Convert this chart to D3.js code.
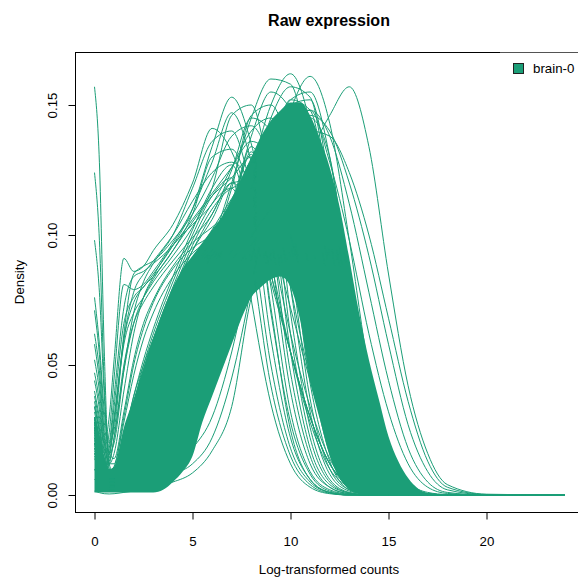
<!DOCTYPE html>
<html><head><meta charset="utf-8">
<script src="https://cdn.jsdelivr.net/npm/d3@7"></script>
<style>
body{margin:0;background:#fff}
svg{display:block}
text{font-family:"Liberation Sans",Arial,Helvetica,sans-serif;fill:#000}
</style>
</head><body>
<svg id="chart" width="578" height="577"></svg>
<script>
// ---------- text / categories ----------
const chartTitle = "Raw expression";
const xTitle = "Log-transformed counts";
const yTitle = "Density";
const legendLabels = ["brain-0"];
const seriesColor = "#1B9E77";
const xTickValues = [0, 5, 10, 15, 20];
const yTickValues = [0, 0.05, 0.10, 0.15];
const yTickLabels = ["0.00", "0.05", "0.10", "0.15"];

// ---------- dense core of the density curves (envelope) ----------
const bandX =    [0, 0.25, 0.5, 0.75, 1, 1.5, 2, 2.5, 3, 3.5, 4, 4.5, 5, 5.5, 6, 6.5, 7, 7.5, 8, 8.5, 9, 9.5, 10, 10.5, 11, 11.5, 12, 12.5, 13, 13.5, 14, 14.5, 15, 15.5, 16, 16.5, 17, 18];
const bandHigh = [0.030, 0.022, 0.015, 0.010, 0.011, 0.026, 0.037, 0.049, 0.060, 0.071, 0.080, 0.087, 0.092, 0.097, 0.102, 0.107, 0.114, 0.122, 0.130, 0.138, 0.144, 0.148, 0.151, 0.151, 0.146, 0.137, 0.126, 0.111, 0.091, 0.070, 0.052, 0.037, 0.0225, 0.013, 0.0065, 0.0025, 0.0008, 0.0002];
const bandLow =  [0.001, 0.001, 0.001, 0.001, 0.001, 0.001, 0.001, 0.001, 0.001, 0.002, 0.005, 0.009, 0.015, 0.028, 0.038, 0.048, 0.058, 0.068, 0.076, 0.080, 0.083, 0.084, 0.080, 0.067, 0.044, 0.029, 0.015, 0.0065, 0.002, 0.0005, 0.0002, 0.0001, 0.0001, 0.0001, 0.0001, 0.0001, 0.0001, 0.0001];

// ---------- individual visible sample curves ----------
const gridX = [0, 0.25, 0.5, 0.75, 1, 1.5, 2, 2.5, 3, 4, 5, 6, 7, 8, 9, 10, 11, 12, 13, 14, 15, 16, 17, 18, 20, 24];

const spike1 = [.157, .128, .055, .010, .006, .012, .020, .028, .036, .052, .068, .080, .092, .108, .130, .150, .143, .108, .060, .022, .006, .0015, .0003, .0001, 0, 0];
const spike2 = [.124, .098, .042, .012, .008, .020, .034, .048, .060, .078, .088, .095, .103, .118, .138, .150, .136, .096, .050, .018, .005, .001, .0002, 0, 0, 0];
const spike3 = [.098, .078, .038, .016, .014, .032, .052, .066, .075, .088, .097, .103, .110, .126, .142, .146, .128, .088, .045, .015, .004, .001, .0002, 0, 0, 0];
const spike4 = [.076, .058, .032, .020, .025, .062, .085, .088, .090, .098, .108, .122, .138, .142, .128, .100, .068, .036, .014, .004, .001, .0002, 0, 0, 0, 0];
const spike5 = [.071, .054, .028, .016, .020, .048, .070, .082, .089, .100, .118, .136, .140, .118, .085, .055, .030, .012, .003, .0006, .0001, 0, 0, 0, 0, 0];
const spike6 = [.062, .048, .024, .012, .012, .030, .050, .064, .074, .087, .095, .100, .108, .122, .140, .148, .126, .084, .040, .013, .003, .0006, .0001, 0, 0, 0];
const spike7 = [.058, .044, .022, .010, .009, .022, .038, .050, .060, .076, .087, .094, .102, .118, .136, .150, .140, .100, .052, .019, .005, .001, .0002, 0, 0, 0];
const spike8 = [.052, .040, .020, .012, .016, .040, .062, .076, .084, .096, .104, .112, .126, .140, .145, .125, .085, .045, .017, .005, .001, .0002, 0, 0, 0, 0];
const spike9 = [.047, .036, .018, .008, .007, .016, .028, .040, .050, .066, .080, .090, .098, .112, .132, .152, .148, .110, .060, .023, .006, .0013, .0003, 0, 0, 0];
const spike10 = [.044, .033, .016, .009, .011, .028, .046, .060, .070, .084, .093, .099, .106, .120, .138, .147, .132, .092, .047, .017, .004, .001, .0002, 0, 0, 0];

const early1 = [.040, .030, .020, .030, .052, .091, .086, .088, .094, .104, .120, .141, .132, .110, .082, .055, .030, .012, .004, .001, .0002, 0, 0, 0, 0, 0];
const early2 = [.036, .026, .016, .024, .045, .081, .079, .081, .086, .097, .110, .128, .147, .128, .090, .055, .028, .010, .003, .0006, .0001, 0, 0, 0, 0, 0];
const early3 = [.030, .020, .010, .014, .028, .058, .070, .076, .082, .092, .103, .118, .146, .150, .120, .080, .045, .020, .007, .002, .0004, 0, 0, 0, 0, 0];
const early4 = [.034, .024, .014, .018, .034, .066, .076, .080, .085, .096, .110, .134, .153, .135, .098, .062, .034, .014, .004, .001, .0002, 0, 0, 0, 0, 0];
const early5 = [.028, .020, .012, .016, .030, .060, .074, .080, .084, .094, .108, .130, .133, .115, .085, .055, .030, .012, .004, .001, .0002, 0, 0, 0, 0, 0];
const early6 = [.026, .018, .010, .012, .022, .050, .066, .074, .080, .090, .099, .108, .125, .145, .140, .105, .062, .028, .010, .003, .0006, 0, 0, 0, 0, 0];
const early7 = [.034, .025, .014, .016, .028, .060, .078, .085, .090, .100, .113, .124, .128, .120, .100, .072, .044, .020, .007, .002, .0004, 0, 0, 0, 0, 0];
const early8 = [.030, .022, .012, .013, .022, .048, .066, .076, .083, .094, .105, .115, .122, .130, .125, .100, .062, .028, .010, .003, .0006, 0, 0, 0, 0, 0];
const early9 = [.038, .028, .016, .020, .038, .072, .084, .086, .089, .096, .106, .116, .126, .136, .130, .105, .068, .032, .011, .003, .0006, 0, 0, 0, 0, 0];

const narrow0 = [.030, .020, .010, .006, .008, .020, .035, .050, .062, .082, .100, .115, .122, .075, .035, .012, .003, .0005, 0, 0, 0, 0, 0, 0, 0, 0];
const narrow1 = [.032, .022, .011, .007, .009, .022, .038, .052, .064, .084, .102, .118, .127, .100, .050, .018, .005, .001, 0, 0, 0, 0, 0, 0, 0, 0];
const narrow2 = [.028, .020, .010, .006, .007, .018, .032, .046, .058, .078, .094, .106, .120, .121, .070, .028, .008, .0015, .0002, 0, 0, 0, 0, 0, 0, 0];
const narrow3 = [.025, .018, .009, .005, .006, .016, .029, .042, .054, .074, .090, .100, .112, .131, .092, .040, .012, .003, .0005, 0, 0, 0, 0, 0, 0, 0];
const narrow4 = [.022, .016, .008, .005, .006, .015, .027, .040, .052, .072, .088, .098, .110, .134, .112, .055, .018, .004, .0008, 0, 0, 0, 0, 0, 0, 0];
const narrow5 = [.020, .015, .007, .004, .005, .013, .025, .037, .048, .068, .084, .095, .106, .128, .126, .070, .026, .006, .001, 0, 0, 0, 0, 0, 0, 0];
const narrow6 = [.018, .013, .006, .004, .005, .012, .022, .033, .044, .063, .080, .092, .104, .122, .138, .090, .037, .010, .002, .0003, 0, 0, 0, 0, 0, 0];
const narrow7 = [.016, .012, .006, .003, .004, .010, .019, .030, .040, .058, .075, .088, .100, .118, .140, .105, .050, .016, .003, .0005, 0, 0, 0, 0, 0, 0];
const narrow8 = [.027, .019, .009, .006, .007, .019, .034, .048, .060, .080, .098, .112, .118, .090, .042, .015, .004, .0007, 0, 0, 0, 0, 0, 0, 0, 0];
const narrow9 = [.024, .017, .008, .005, .006, .017, .031, .045, .057, .077, .094, .108, .120, .110, .060, .022, .006, .001, 0, 0, 0, 0, 0, 0, 0, 0];
const narrow10 = [.021, .015, .007, .005, .006, .015, .028, .041, .053, .073, .090, .102, .114, .125, .080, .032, .009, .002, .0003, 0, 0, 0, 0, 0, 0, 0];
const narrow11 = [.019, .014, .007, .004, .005, .014, .026, .039, .050, .070, .086, .098, .110, .132, .100, .047, .015, .003, .0005, 0, 0, 0, 0, 0, 0, 0];
const narrow12 = [.017, .013, .006, .004, .005, .013, .024, .036, .047, .066, .083, .094, .106, .128, .118, .062, .022, .005, .0008, 0, 0, 0, 0, 0, 0, 0];
const narrow13 = [.015, .011, .005, .003, .004, .011, .020, .031, .042, .060, .077, .090, .102, .120, .130, .080, .032, .008, .0015, .0002, 0, 0, 0, 0, 0, 0];
const narrow14 = [.014, .010, .005, .003, .004, .010, .018, .028, .038, .056, .073, .087, .099, .119, .137, .098, .043, .013, .002, .0003, 0, 0, 0, 0, 0, 0];
const narrow15 = [.026, .018, .009, .005, .006, .017, .031, .046, .058, .078, .096, .110, .118, .120, .072, .025, .006, .001, 0, 0, 0, 0, 0, 0, 0, 0];

const late1 = [.010, .006, .003, .002, .002, .003, .004, .005, .007, .011, .018, .030, .055, .090, .125, .145, .140, .110, .065, .028, .008, .002, .0004, .0001, 0, 0];
const late2 = [.006, .004, .002, .0015, .0015, .002, .003, .004, .005, .008, .012, .022, .045, .080, .120, .150, .152, .120, .070, .030, .009, .002, .0004, .0001, 0, 0];
const late3 = [.020, .014, .008, .006, .008, .018, .030, .040, .048, .062, .075, .082, .084, .085, .092, .120, .145, .130, .080, .035, .010, .002, .0004, .0001, 0, 0];
const lowest = [.0015, .0009, .0005, .0004, .0005, .001, .0015, .002, .003, .005, .0085, .017, .034, .076, .094, .125, .140, .112, .062, .024, .007, .0015, .0003, 0, 0, 0];

const tall1 = [.030, .022, .011, .006, .006, .015, .026, .038, .048, .064, .080, .097, .120, .145, .160, .158, .128, .085, .042, .014, .004, .0008, .0001, 0, 0, 0];
const tall2 = [.026, .019, .009, .005, .005, .013, .023, .034, .044, .060, .076, .090, .104, .125, .150, .162, .143, .098, .048, .017, .005, .001, .0002, 0, 0, 0];
const tall3 = [.024, .017, .008, .005, .005, .012, .021, .031, .040, .056, .071, .083, .092, .103, .122, .148, .161, .143, .098, .048, .017, .005, .001, .0002, 0, 0];
const tall4 = [.028, .020, .010, .006, .006, .014, .025, .036, .046, .062, .078, .093, .112, .138, .155, .148, .118, .078, .038, .013, .003, .0007, .0001, 0, 0, 0];
const tall5 = [.025, .018, .009, .005, .005, .013, .022, .033, .043, .059, .074, .088, .100, .120, .145, .157, .153, .112, .058, .021, .006, .0012, .0002, 0, 0, 0];
const tall6 = [.029, .021, .010, .006, .006, .015, .026, .037, .047, .063, .079, .095, .118, .146, .150, .132, .100, .062, .028, .009, .002, .0004, 0, 0, 0, 0];
const tall7 = [.023, .016, .008, .005, .005, .012, .021, .030, .039, .055, .070, .082, .094, .110, .132, .152, .155, .130, .080, .034, .011, .003, .0005, 0, 0, 0];

const wide1 = [.022, .015, .008, .005, .005, .011, .020, .030, .039, .055, .070, .082, .092, .104, .125, .145, .148, .128, .098, .062, .032, .012, .003, .0006, 0, 0];
const wide2 = [.020, .014, .007, .004, .004, .010, .018, .028, .036, .052, .067, .079, .090, .102, .120, .140, .148, .138, .112, .078, .044, .018, .005, .001, 0, 0];
const wide3 = [.018, .013, .006, .004, .004, .009, .017, .026, .034, .050, .064, .076, .087, .099, .115, .135, .146, .140, .120, .092, .058, .027, .009, .002, .0001, 0];
const wide4 = [.016, .012, .006, .003, .003, .008, .015, .024, .032, .048, .062, .074, .085, .096, .110, .128, .140, .138, .124, .100, .068, .036, .013, .003, .0002, 0];
const rightmost = [.020, .015, .007, .004, .005, .011, .020, .030, .040, .060, .075, .085, .090, .100, .110, .120, .132, .146, .157, .134, .085, .042, .016, .004, .0003, 0];

const sampleCurves = [spike1, spike2, spike3, spike4, spike5, spike6, spike7, spike8, spike9, spike10,
  early1, early2, early3, early4, early5, early6, early7, early8, early9,
  narrow0, narrow1, narrow2, narrow3, narrow4, narrow5, narrow6, narrow7,
  narrow8, narrow9, narrow10, narrow11, narrow12, narrow13, narrow14, narrow15,
  late1, late2, late3, lowest, tall1, tall2, tall3, tall4, tall5, tall6, tall7,
  wide1, wide2, wide3, wide4, rightmost];

// ---------- drawing ----------
const svg = d3.select("#chart");
const plot = {left: 75, right: 583, top: 52, bottom: 512};
const x = d3.scaleLinear().domain([-0.995, 24.923]).range([plot.left, plot.right]);
const y = d3.scaleLinear().domain([-0.00654, 0.17038]).range([plot.bottom, plot.top]);

svg.append("defs").append("clipPath").attr("id", "clip")
  .append("rect").attr("x", plot.left).attr("y", plot.top)
  .attr("width", plot.right - plot.left).attr("height", plot.bottom - plot.top);

const g = svg.append("g").attr("clip-path", "url(#clip)");

const bandData = bandX.map((v, i) => ({x: v, lo: bandLow[i], hi: bandHigh[i]}));
g.append("path").datum(bandData)
  .attr("fill", seriesColor)
  .attr("d", d3.area().x(d => x(d.x)).y0(d => y(d.lo)).y1(d => y(d.hi)).curve(d3.curveMonotoneX));

const line = d3.line().x((d, i) => x(gridX[i])).y(d => y(d)).curve(d3.curveMonotoneX);
g.selectAll("path.curve").data(sampleCurves).join("path")
  .attr("class", "curve")
  .attr("fill", "none")
  .attr("stroke", seriesColor)
  .attr("stroke-width", 1)
  .attr("d", line);

// frame
svg.append("rect")
  .attr("x", plot.left + 0.5).attr("y", plot.top + 0.5)
  .attr("width", plot.right - plot.left).attr("height", plot.bottom - plot.top)
  .attr("fill", "none").attr("stroke", "#000").attr("stroke-width", 1);

// y axis
const yAxis = d3.axisLeft(y).tickValues(yTickValues).tickSize(7).tickSizeOuter(0)
  .tickFormat((d, i) => yTickLabels[i]);
const ya = svg.append("g").attr("transform", `translate(${plot.left + 0.5},0)`).call(yAxis);
ya.select(".domain").remove();
ya.append("line").attr("x1", 0).attr("x2", 0)
  .attr("y1", y(yTickValues[0])).attr("y2", y(yTickValues[yTickValues.length - 1]))
  .attr("stroke", "#000");
ya.selectAll(".tick line").attr("stroke", "#000");
ya.selectAll(".tick text")
  .attr("x", null).attr("dy", null).attr("text-anchor", "middle")
  .attr("transform", "translate(-18.5,0) rotate(-90)")
  .style("font-size", "13.3px").style("font-family", "'Liberation Sans',Arial,sans-serif").attr("fill", "#000");

// x axis
const xAxis = d3.axisBottom(x).tickValues(xTickValues).tickSize(7).tickSizeOuter(0).tickPadding(17)
  .tickFormat(d3.format("d"));
const xa = svg.append("g").attr("transform", `translate(0,${plot.bottom + 0.5})`).call(xAxis);
xa.select(".domain").remove();
xa.selectAll(".tick line").attr("stroke", "#000");
xa.selectAll(".tick text")
  .style("font-size", "13.3px").style("font-family", "'Liberation Sans',Arial,sans-serif").attr("fill", "#000");

// titles
svg.append("text").attr("x", (plot.left + plot.right) / 2).attr("y", 26)
  .attr("text-anchor", "middle").style("font-size", "16px").style("font-weight", "bold").text(chartTitle);
svg.append("text").attr("x", (plot.left + plot.right) / 2).attr("y", 574)
  .attr("text-anchor", "middle").style("font-size", "13.3px").text(xTitle);
svg.append("text").attr("transform", `translate(24,${(plot.top + plot.bottom) / 2}) rotate(-90)`)
  .attr("text-anchor", "middle").style("font-size", "13.3px").text(yTitle);

// legend (white background, no border)
const leg = svg.append("g");
leg.append("rect").attr("x", 500).attr("y", 52.5).attr("width", 90).attr("height", 32)
  .attr("fill", "#fff").attr("fill-opacity", 0.65);
legendLabels.forEach((lab, i) => {
  leg.append("rect").attr("x", 513.5).attr("y", 63.5 + i * 18).attr("width", 10).attr("height", 10)
    .attr("fill", seriesColor).attr("stroke", "#222").attr("stroke-width", 1);
  leg.append("text").attr("x", 533).attr("y", 73 + i * 18)
    .style("font-size", "13.3px").text(lab);
});
</script>
</body></html>
